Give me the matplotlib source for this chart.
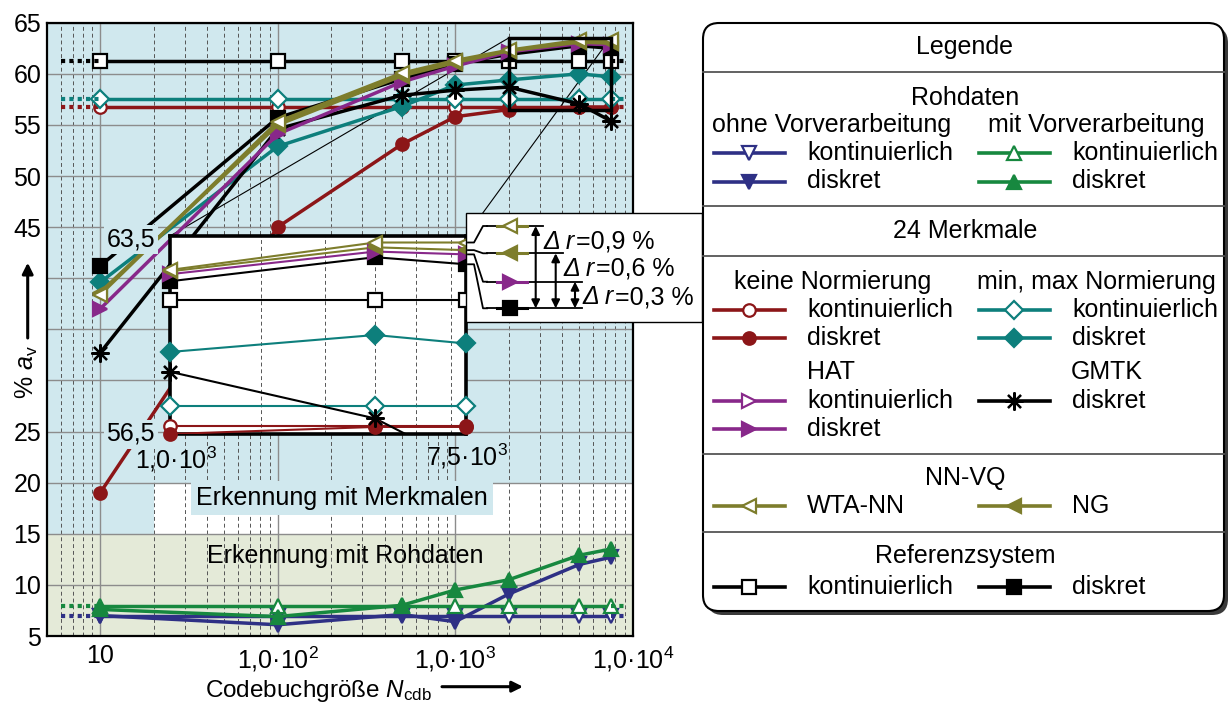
import numpy as np
import matplotlib
matplotlib.use('Agg')
import matplotlib.pyplot as plt
from matplotlib.patches import Rectangle, FancyBboxPatch
from matplotlib.ticker import LogLocator, FixedLocator, NullFormatter

plt.rcParams['font.family'] = ['Liberation Sans', 'DejaVu Sans']
plt.rcParams['mathtext.fontset'] = 'custom'
plt.rcParams['mathtext.rm'] = 'Liberation Sans'
plt.rcParams['mathtext.it'] = 'Liberation Sans:italic'
plt.rcParams['mathtext.bf'] = 'Liberation Sans:bold'
plt.rcParams['font.size'] = 18

#### data (Erkennungsrate in %, ueber Codebuchgroesse)
N_cdb = [10, 100, 500, 1000, 2000, 5000, 7500]

roh_ohne_kont = [7.0, 7.0, 7.0, 7.0, 7.0, 7.0, 7.0]
roh_ohne_disk = [7.0, 6.1, 7.1, 6.4, 9.1, 12.0, 12.7]
roh_mit_kont = [7.9, 7.9, 7.9, 7.9, 7.9, 7.9, 7.9]
roh_mit_disk = [7.6, 6.9, 8.0, 9.5, 10.5, 12.9, 13.5]

keine_kont = [56.8, 56.8, 56.8, 56.8, 56.8, 56.8, 56.8]
keine_disk = [19.0, 45.0, 53.1, 55.8, 56.5, 56.75, 56.75]
minmax_kont = [57.5, 57.5, 57.5, 57.5, 57.5, 57.5, 57.5]
minmax_disk = [39.6, 52.9, 56.8, 58.9, 59.4, 60.0, 59.7]
hat_disk = [37.0, 54.1, 59.2, 60.75, 62.15, 62.95, 62.85]
gmtk_disk = [32.7, 54.6, 57.9, 58.4, 58.7, 57.05, 55.4]
wta_nn = [38.4, 55.3, 60.05, 61.3, 62.3, 63.27, 63.27]
ng = [38.6, 55.0, 59.8, 61.1, 62.25, 63.1, 63.0]
ref_kont = [61.25, 61.25, 61.25, 61.25, 61.25, 61.25, 61.25]
ref_disk = [41.2, 55.7, 59.5, 61.0, 61.9, 62.75, 62.5]

zoom_x = [2000, 7500]
zoom_y = [56.5, 63.5]
delta_r = ['0,9', '0,6', '0,3']

y_ticks = [5, 10, 15, 20, 25, 30, 35, 40, 45, 50, 55, 60, 65]
y_hidden = [30, 35, 40]

NAVY = '#2e3085'
GREEN = '#17883f'
RED = '#8c1618'
TEAL = '#0d7f7c'
PURPLE = '#88288a'
OLIVE = '#7d7d2c'
BLUE_BG = '#d0e8ee'
GREEN_BG = '#e4ead8'
AST = (8, 2, 0)

# (werte, farbe, marker, gefuellt, konstant)
series = [
    (roh_ohne_kont, NAVY, 'v', False, True),
    (roh_ohne_disk, NAVY, 'v', True, False),
    (roh_mit_kont, GREEN, '^', False, True),
    (roh_mit_disk, GREEN, '^', True, False),
    (keine_kont, RED, 'o', False, True),
    (keine_disk, RED, 'o', True, False),
    (minmax_kont, TEAL, 'D', False, True),
    (minmax_disk, TEAL, 'D', True, False),
    (gmtk_disk, 'black', AST, True, False),
    (ref_kont, 'black', 's', False, True),
    (ref_disk, 'black', 's', True, False),
    (hat_disk, PURPLE, '>', True, False),
    (ng, OLIVE, '<', True, False),
    (wta_nn, OLIVE, '<', False, False),
]

def msize(m):
    if m == 'o':
        return 9
    if m == 'D':
        return 9
    if m == AST:
        return 13
    return 10

W, H = 1230, 704
fig = plt.figure(figsize=(W / 100, H / 100), dpi=100)

def px_box(l, t, r, b):
    return [l / W, 1 - b / H, (r - l) / W, (b - t) / H]

#### main axes
ax = fig.add_axes(px_box(46.7, 22.7, 632.7, 636))
ax.set_xscale('log')
ax.set_xlim(5, 10000)
ax.set_ylim(5, 65)
ax.axhspan(20, 65, color=BLUE_BG, lw=0, zorder=0)
ax.fill_between([5, 20], 15, 20, color=BLUE_BG, lw=0, zorder=0)
ax.axhspan(5, 15, color=GREEN_BG, lw=0, zorder=0)

ax.set_xticks([10, 100, 1000, 10000])
ax.set_xticklabels(['10', '1,0·10$^{2}$', '1,0·10$^{3}$', '1,0·10$^{4}$'])
ax.xaxis.set_minor_locator(LogLocator(base=10, subs=np.arange(2, 10)))
ax.xaxis.set_minor_formatter(NullFormatter())
ax.set_yticks(y_ticks)
ax.set_yticklabels(['' if v in y_hidden else str(v) for v in y_ticks])
ax.set_axisbelow(True)
ax.grid(True, which='major', color='#8c8c8c', lw=1.0)
ax.grid(True, which='minor', axis='x', color='#555555', lw=0.7, ls=(0, (4, 3)))
ax.tick_params(which='both', length=0, labelsize=18)
ax.tick_params(axis='x', pad=6)
ax.tick_params(axis='y', pad=4)
for s in ax.spines.values():
    s.set_linewidth(1.6)

for vals, col, mk, filled, const in series:
    ax.plot(N_cdb, vals, color=col, lw=2.5, marker=mk, ms=msize(mk),
            mfc=col if filled else 'white', mec=col, mew=1.6, zorder=3)
    if const:
        ax.plot([6, 10], vals[:2], color=col, lw=3, ls=(0, (1, 1)), zorder=3)
        ax.plot([7500, 9000], vals[-2:], color=col, lw=3, ls=(0, (1, 1)), zorder=3)

ax.add_patch(Rectangle((zoom_x[0], zoom_y[0]), zoom_x[1] - zoom_x[0], zoom_y[1] - zoom_y[0],
                       fill=False, ec='black', lw=2.5, zorder=6))

ax.text(230, 18.5, 'Erkennung mit Merkmalen', ha='center', va='center', fontsize=18,
        bbox=dict(boxstyle='square,pad=0.2', fc=BLUE_BG, ec='none'), zorder=2.5)
ax.text(240, 12.8, 'Erkennung mit Rohdaten', ha='center', va='center', fontsize=18, zorder=2.5)

#### inset (Ausschnitt)
axin = fig.add_axes(px_box(170, 236, 466, 434))
axin.set_xscale('log')
axin.set_xlim(zoom_x)
axin.set_ylim(zoom_y)
axin.set_xticks([])
axin.xaxis.set_minor_locator(FixedLocator([3000, 4000, 5000, 6000, 7000]))
axin.xaxis.set_minor_formatter(NullFormatter())
axin.set_yticks([])
axin.grid(True, which='minor', axis='x', color='#555555', lw=0.7, ls=(0, (4, 3)))
axin.tick_params(which='both', length=0, labelbottom=False, labelleft=False)
for s in axin.spines.values():
    s.set_linewidth(2.6)

for vals, col, mk, filled, const in series:
    axin.plot(N_cdb, vals, color=col, lw=1.5, zorder=3)
    xs = [x for x, v in zip(N_cdb, vals) if zoom_x[0] <= x <= zoom_x[1] and zoom_y[0] <= v <= zoom_y[1]]
    ys = [v for x, v in zip(N_cdb, vals) if zoom_x[0] <= x <= zoom_x[1] and zoom_y[0] <= v <= zoom_y[1]]
    axin.plot(xs, ys, ls='none', marker=mk, ms=msize(mk), mfc=col if filled else 'white',
              mec=col, mew=1.6, clip_on=False, zorder=4)

# Verbindungslinien Rechteck -> Ausschnitt
corners = ax.transData.inverted().transform(axin.transAxes.transform([(0, 1), (1, 1)]))
ax.plot([zoom_x[0], corners[0][0]], [zoom_y[1], corners[0][1]], color='black', lw=0.8, zorder=2)
ax.plot([zoom_x[1], corners[1][0]], [zoom_y[1], corners[1][1]], color='black', lw=0.8, zorder=2)

#### overlay in pixel coordinates
ov = fig.add_axes([0, 0, 1, 1])
ov.set_xlim(0, W)
ov.set_ylim(H, 0)
ov.axis('off')

def to_ov(axes, x, y):
    dx, dy = axes.transData.transform((x, y))
    return dx, H - dy

# inset labels
ov.text(155, 239, '63,5', ha='right', va='center', fontsize=18,
        bbox=dict(boxstyle='square,pad=0.1', fc=BLUE_BG, ec='none'))
ov.text(155, 434, '56,5', ha='right', va='center', fontsize=18,
        bbox=dict(boxstyle='square,pad=0.1', fc=BLUE_BG, ec='none'))
ov.text(176, 459, '1,0·10$^{3}$', ha='center', va='center', fontsize=18)
ov.text(467, 456, '7,5·10$^{3}$', ha='center', va='center', fontsize=18)

# callout box with delta r
ov.add_patch(Rectangle((466, 213), 236, 109, fc='white', ec='black', lw=1.0, zorder=2))
rows = [
    (wta_nn, 226, OLIVE, '<', False, 543),
    (ng, 253.3, OLIVE, '<', True, 563),
    (hat_disk, 281.7, PURPLE, '>', True, 582),
    (ref_disk, 308.3, 'black', 's', True, 582),
]
for vals, yt, col, mk, filled, xend in rows:
    x0, y0 = to_ov(axin, N_cdb[-1], vals[-1])
    ov.plot([x0 + 2, 474, 483, 487], [y0, y0, yt, yt], color='black', lw=1.3, zorder=3)
    ov.plot([487, xend], [yt, yt], color='black', lw=1.3, zorder=3)
    ov.plot([497, 527], [yt, yt], color=col, lw=2.2, zorder=4)
    ov.plot([510], [yt], marker=mk, ms=msize(mk), mfc=col if filled else 'white', mec=col,
            mew=1.6, zorder=5)

for (xa, ytop, txt_x, txt_y), dr in zip([(535.7, 226, 543, 242), (555.7, 253.3, 563, 268.5),
                                         (575, 281.7, 582, 297)], delta_r):
    ov.annotate('', xy=(xa, ytop), xytext=(xa, 308.3),
                arrowprops=dict(arrowstyle='<|-|>', lw=1.5, color='black', shrinkA=0, shrinkB=0,
                                mutation_scale=12), zorder=5)
    ov.text(txt_x, txt_y, 'Δ r', style='italic', ha='left', va='center', fontsize=18, zorder=6)
    ov.text(txt_x + 33, txt_y, '=' + dr + ' %', ha='left', va='center', fontsize=18, zorder=6)

# axis labels
fig.text(205 / W, (H - 697) / H, r'Codebuchgröße $N_{\mathrm{cdb}}$', ha='left', va='baseline',
         fontsize=17.5)
ov.annotate('', xy=(523, 686.7), xytext=(442, 686.7),
            arrowprops=dict(arrowstyle='-|>', lw=2.2, color='black', shrinkA=0, shrinkB=0,
                            mutation_scale=16))
ov.text(27, 372, r'% $a_{\mathrm{v}}$', rotation=90, ha='center', va='center', fontsize=18)
ov.annotate('', xy=(27.7, 262.7), xytext=(27.7, 338),
            arrowprops=dict(arrowstyle='-|>', lw=2.2, color='black', shrinkA=0, shrinkB=0,
                            mutation_scale=16))

#### legend box
ov.add_patch(FancyBboxPatch((707, 27), 521, 588, boxstyle='round,pad=0,rounding_size=16',
                            fc='#3a3a3a', ec='none', zorder=1))
ov.add_patch(FancyBboxPatch((703, 23), 521, 588, boxstyle='round,pad=0,rounding_size=16',
                            fc='white', ec='black', lw=1.5, zorder=2))
for ysep in [72.4, 205.8, 255.8, 453.8, 531.5]:
    ov.plot([703, 1224], [ysep, ysep], color='#555555', lw=1.3, zorder=3)

def head(x, y, txt, ha='center'):
    ov.text(x, y, txt, ha=ha, va='center', fontsize=18, zorder=4)

def sample(col_x, y, col, mk, filled, txt):
    ov.plot([col_x - 35.5, col_x + 35.5], [y, y], color=col, lw=2.6, zorder=4)
    ov.plot([col_x], [y], marker=mk, ms=msize(mk), mfc=col if filled else 'white', mec=col,
            mew=1.6, zorder=5)
    ov.text(col_x + 58, y, txt, ha='left', va='center', fontsize=18, zorder=4)

L, R = 749, 1014
head(965, 47, 'Legende')
head(965, 97.7, 'Rohdaten')
head(832, 125.4, 'ohne Vorverarbeitung')
head(1096, 125.4, 'mit Vorverarbeitung')
sample(L, 153.4, NAVY, 'v', False, 'kontinuierlich')
sample(L, 181.5, NAVY, 'v', True, 'diskret')
sample(R, 153.4, GREEN, '^', False, 'kontinuierlich')
sample(R, 181.5, GREEN, '^', True, 'diskret')
head(965, 231, '24 Merkmale')
head(833, 282, 'keine Normierung')
head(1096, 282, 'min, max Normierung')
sample(L, 310, RED, 'o', False, 'kontinuierlich')
sample(L, 337.6, RED, 'o', True, 'diskret')
sample(R, 310, TEAL, 'D', False, 'kontinuierlich')
sample(R, 337.6, TEAL, 'D', True, 'diskret')
head(807, 372, 'HAT', ha='left')
head(1071, 372, 'GMTK', ha='left')
sample(L, 400.8, PURPLE, '>', False, 'kontinuierlich')
sample(L, 428.5, PURPLE, '>', True, 'diskret')
sample(R, 400.8, 'black', AST, True, 'diskret')
head(965, 478.5, 'NN-VQ')
sample(L, 506, OLIVE, '<', False, 'WTA-NN')
sample(R, 506, OLIVE, '<', True, 'NG')
head(965, 556, 'Referenzsystem')
sample(L, 586.6, 'black', 's', False, 'kontinuierlich')
sample(R, 586.6, 'black', 's', True, 'diskret')

fig.savefig('out.png', dpi=100)
